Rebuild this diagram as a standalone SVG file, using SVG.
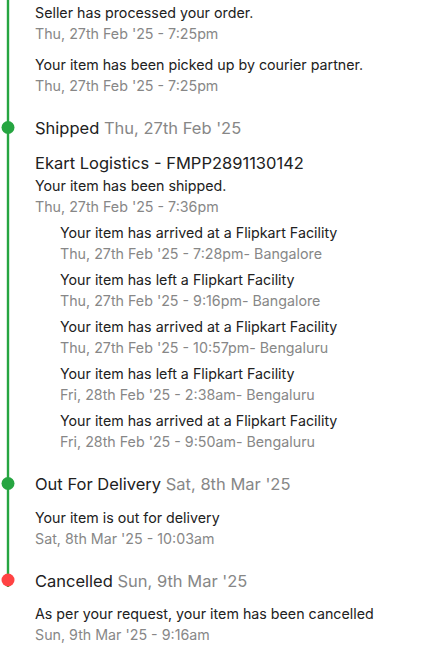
<svg xmlns="http://www.w3.org/2000/svg" width="427" height="651" viewBox="0 0 427 651">
<style>
text{font-family:Inter,"Noto Sans",sans-serif;}
.m{font-size:14.25px;fill:#212121;}
.d{font-size:14.25px;fill:#878787;}
.h{font-size:16.5px;fill:#212121;}
.hd{font-size:16.5px;fill:#878787;}
.g{fill:#26a541;}
.r{fill:#ff4343;}
</style>
<rect width="427" height="651" fill="#fff"/>
<g id="connectors">
<line x1="8" y1="0" x2="8" y2="587" stroke="#26a541" stroke-width="2.4"/>
</g>
<g id="ordered">
<text class="m" x="35" y="18">Seller has processed your order.</text>
<text class="d" x="35" y="39">Thu, 27th Feb '25 - 7:25pm</text>
<text class="m" x="35" y="70">Your item has been picked up by courier partner.</text>
<text class="d" x="35" y="91">Thu, 27th Feb '25 - 7:25pm</text>
</g>
<g id="shipped">
<circle class="g" cx="8" cy="127.5" r="6.5"/>
<text class="h" x="35" y="134">Shipped <tspan class="hd">Thu, 27th Feb '25</tspan></text>
<text class="h" x="35" y="169">Ekart Logistics - FMPP2891130142</text>
<text class="m" x="35" y="191">Your item has been shipped.</text>
<text class="d" x="35" y="212">Thu, 27th Feb '25 - 7:36pm</text>
<text class="m" x="60" y="238">Your item has arrived at a Flipkart Facility</text>
<text class="d" x="60" y="259">Thu, 27th Feb '25 - 7:28pm- Bangalore</text>
<text class="m" x="60" y="285">Your item has left a Flipkart Facility</text>
<text class="d" x="60" y="306">Thu, 27th Feb '25 - 9:16pm- Bangalore</text>
<text class="m" x="60" y="332">Your item has arrived at a Flipkart Facility</text>
<text class="d" x="60" y="353">Thu, 27th Feb '25 - 10:57pm- Bengaluru</text>
<text class="m" x="60" y="379">Your item has left a Flipkart Facility</text>
<text class="d" x="60" y="400">Fri, 28th Feb '25 - 2:38am- Bengaluru</text>
<text class="m" x="60" y="426">Your item has arrived at a Flipkart Facility</text>
<text class="d" x="60" y="447">Fri, 28th Feb '25 - 9:50am- Bengaluru</text>
</g>
<g id="outfordelivery">
<circle class="g" cx="8" cy="483.5" r="6.5"/>
<text class="h" x="35" y="490">Out For Delivery <tspan class="hd">Sat, 8th Mar '25</tspan></text>
<text class="m" x="35" y="523">Your item is out for delivery</text>
<text class="d" x="35" y="544">Sat, 8th Mar '25 - 10:03am</text>
</g>
<g id="cancelled">
<circle class="r" cx="8" cy="580" r="6.5"/>
<text class="h" x="35" y="587">Cancelled <tspan class="hd">Sun, 9th Mar '25</tspan></text>
<text class="m" x="35" y="619">As per your request, your item has been cancelled</text>
<text class="d" x="35" y="640">Sun, 9th Mar '25 - 9:16am</text>
</g>
</svg>
